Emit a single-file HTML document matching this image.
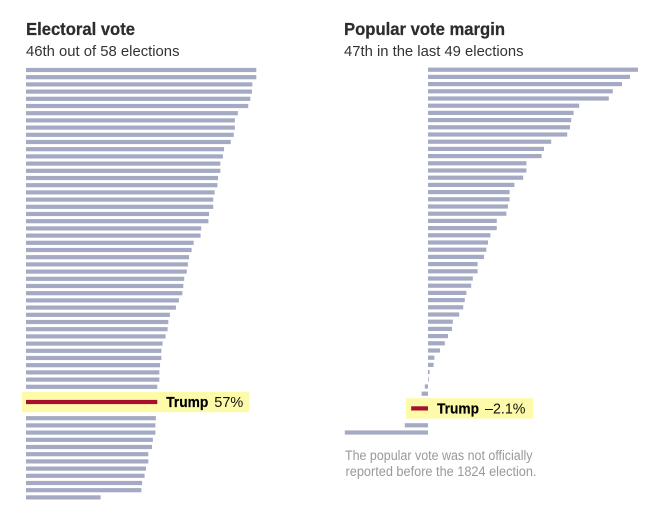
<!DOCTYPE html>
<html lang="en">
<head>
<meta charset="utf-8">
<title>Electoral vote and popular vote margin</title>
<style>
html,body{margin:0;padding:0;background:#fff;width:661px;height:525px;overflow:hidden}
svg{display:block;font-family:"Liberation Sans",sans-serif}
.title{font-size:17.5px;font-weight:700;fill:#2c2c2c;stroke:#2c2c2c;stroke-width:.25px}
.sub{font-size:15px;fill:#333}
.note{font-size:13.5px;fill:#999}
.hl{font-size:15px;fill:#111}
.hl-b{font-size:15px;font-weight:700;fill:#000;stroke:#000;stroke-width:.2px}
</style>
</head>
<body>
<svg id="chart" width="661" height="525" viewBox="0 0 661 525" xmlns="http://www.w3.org/2000/svg">
  <text class="title" x="26" y="35" textLength="109" lengthAdjust="spacingAndGlyphs">Electoral vote</text>
  <text class="sub" x="26" y="56" textLength="153.5" lengthAdjust="spacingAndGlyphs">46th out of 58 elections</text>
  <text class="title" x="344" y="35" textLength="161" lengthAdjust="spacingAndGlyphs">Popular vote margin</text>
  <text class="sub" x="344" y="56" textLength="179.5" lengthAdjust="spacingAndGlyphs">47th in the last 49 elections</text>
  <text class="note" x="345" y="460" textLength="187.5" lengthAdjust="spacingAndGlyphs">The popular vote was not officially</text>
  <text class="note" x="345.5" y="476" textLength="191" lengthAdjust="spacingAndGlyphs">reported before the 1824 election.</text>
</svg>
<script>
const electoralValues = [100,100,98.3,98.1,97.4,96.5,92,90.7,90.7,90.2,88.9,86,85.5,84.4,84.4,83.4,83.1,81.9,81.3,81.3,79.5,79.2,76.1,75.8,72.8,71.9,70.8,70.3,69.8,68.7,68.3,67.9,66.4,65.1,62.5,61.8,61.5,60.6,59.3,58.8,58.8,58.2,57.9,57.9,57,57,56.4,56.2,56.2,55.1,54.7,53.1,53.1,52.1,51.5,50.4,50.1,32.4];
const electoralHighlightIndex = 45;
const electoralHighlightName = "Trump";
const electoralHighlightLabel = "57%";

const popularValues = [26.25,25.25,24.25,23.1,22.6,18.9,18.2,17.9,17.75,17.4,15.4,14.5,14.2,12.3,12.3,11.9,10.8,10.2,10.2,10,9.8,8.6,8.6,7.8,7.5,7.3,7,6.2,6.2,5.6,5.4,4.8,4.6,4.4,3.9,3.1,3,2.5,2.1,1.5,0.8,0.7,0.2,0.1,-0.4,-0.8,-2.1,-2.9,-10.4];
const popularHighlightIndex = 46;
const popularHighlightName = "Trump";
const popularHighlightLabel = "\u20132.1%";

const NS = "http://www.w3.org/2000/svg";
const svg = document.getElementById("chart");
const BAR_COLOR = "#a4aac3";
const RED = "#a6102c";
const YELLOW = "#fdfbaa";
const BAR_H = 4.2;

function bandY(i, top, pitch, hi, gapBefore, gapAfter) {
  return top + pitch * i + (i >= hi ? gapBefore : 0) + (i > hi ? gapAfter : 0);
}
function electoralX(v) { return 26 + v * 2.303; }
function popularX(v) { return 428 + v * 8; }

function addRect(x, y, w, h, fill) {
  const r = document.createElementNS(NS, "rect");
  r.setAttribute("x", x);
  r.setAttribute("y", y);
  r.setAttribute("width", w);
  r.setAttribute("height", h);
  r.setAttribute("fill", fill);
  svg.appendChild(r);
  return r;
}
function addLabel(x, y, name, label, valueWidth, prefix) {
  const n = document.createElementNS(NS, "text");
  n.setAttribute("class", "hl-b");
  n.setAttribute("x", x);
  n.setAttribute("y", y);
  n.setAttribute("textLength", 42);
  n.setAttribute("lengthAdjust", "spacingAndGlyphs");
  
  
  n.textContent = name;
  svg.appendChild(n);
  const t = document.createElementNS(NS, "text");
  t.setAttribute("class", "hl");
  t.setAttribute("x", x + 48);
  t.setAttribute("y", y);
  t.setAttribute("textLength", valueWidth);
  t.setAttribute("lengthAdjust", "spacingAndGlyphs");
  
  
  t.textContent = label;
  svg.appendChild(t);
}

/* electoral chart */
const ehY = bandY(electoralHighlightIndex, 70, 7.2, electoralHighlightIndex, 8, 9);
const eHighlight = addRect(22, ehY - 10.2, 227.5, 20.4, YELLOW);


electoralValues.forEach(function (v, i) {
  const y = bandY(i, 70, 7.2, electoralHighlightIndex, 8, 9);
  const isHi = i === electoralHighlightIndex;
  const r = addRect(electoralX(0), y - BAR_H / 2, electoralX(v) - electoralX(0), BAR_H, isHi ? RED : BAR_COLOR);
  
  
});
addLabel(electoralX(electoralValues[electoralHighlightIndex]) + 9, ehY + 5, electoralHighlightName, electoralHighlightLabel, 29, "electoral-trump-label");

/* popular chart */
const phY = bandY(popularHighlightIndex, 69.7, 7.2, popularHighlightIndex, 7.5, 9.7);
const pHighlight = addRect(406, phY - 10.2, 127, 20.4, YELLOW);


popularValues.forEach(function (v, i) {
  const y = bandY(i, 69.7, 7.2, popularHighlightIndex, 7.5, 9.7);
  const isHi = i === popularHighlightIndex;
  const x0 = Math.min(popularX(0), popularX(v));
  const w = Math.abs(popularX(v) - popularX(0));
  const r = addRect(x0, y - BAR_H / 2, w, BAR_H, isHi ? RED : BAR_COLOR);
  
  
});
addLabel(popularX(0) + 9, phY + 5, popularHighlightName, popularHighlightLabel, 40.5, "popular-trump-label");
</script>
</body>
</html>
